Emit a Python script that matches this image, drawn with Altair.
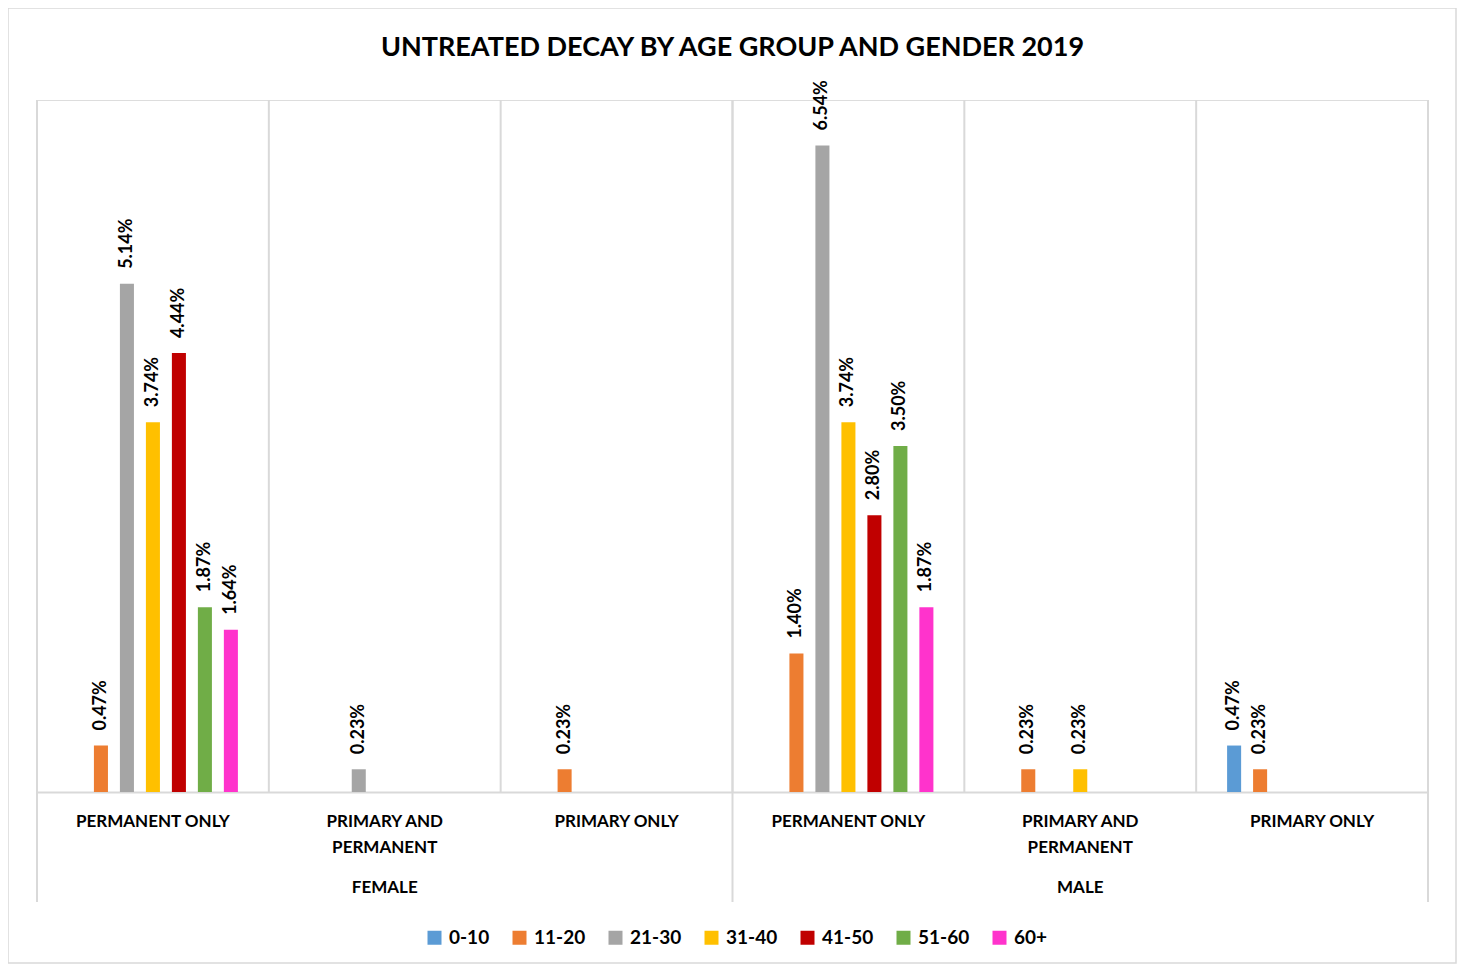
import altair as alt
import pandas as pd

# ---- data ----
genders = ["FEMALE", "MALE"]
types = ["PERMANENT ONLY", "PRIMARY AND\nPERMANENT", "PRIMARY ONLY"]
ages = ["0-10", "11-20", "21-30", "31-40", "41-50", "51-60", "60+"]
colors = ["#5B9BD5", "#ED7D31", "#A5A5A5", "#FFC000", "#C00000", "#70AD47", "#FF33CC"]

# values (%) per age group, in order of the six categories:
# F-Permanent only, F-Primary and permanent, F-Primary only,
# M-Permanent only, M-Primary and permanent, M-Primary only
v_0_10 = [None, None, None, None, None, 0.47]
v_11_20 = [0.47, None, 0.23, 1.40, 0.23, 0.23]
v_21_30 = [5.14, 0.23, None, 6.54, None, None]
v_31_40 = [3.74, None, None, 3.74, 0.23, None]
v_41_50 = [4.44, None, None, 2.80, None, None]
v_51_60 = [1.87, None, None, 3.50, None, None]
v_60p = [1.64, None, None, 1.87, None, None]
series = [v_0_10, v_11_20, v_21_30, v_31_40, v_41_50, v_51_60, v_60p]

title_text = "UNTREATED DECAY BY AGE GROUP AND GENDER 2019"

# ---- tables ----
keys = [f"{g}|{t}" for g in genders for t in types]
rows = []
for age, vals in zip(ages, series):
    for k, v in zip(keys, vals):
        if v is not None:
            rows.append({"key": k, "age": age, "value": v})
df = pd.DataFrame(rows)

cat_df = pd.DataFrame({"key": keys, "label": [t for g in genders for t in types]})
gender_df = pd.DataFrame({"key": [f"{g}|{types[1]}" for g in genders], "g": genders})
long_df = pd.DataFrame({"key": [f"{g}|{types[0]}" for g in genders]})
one = pd.DataFrame({"t": [title_text]})

W, H = 1391, 692
FONT = "Lato"
GRID = "#D9D9D9"

xscale = alt.Scale(domain=keys, paddingInner=0, paddingOuter=0)
X = alt.X("key:N", scale=xscale,
          axis=alt.Axis(labels=False, ticks=False, grid=False, title=None,
                        domainColor=GRID, domainWidth=2))
# empty slots at both ends give the gap between category groups
XO = alt.XOffset("age:N", scale=alt.Scale(domain=[" "] + ages + ["  "],
                                          paddingInner=0.46, paddingOuter=0.19))
Y = alt.Y("value:Q", scale=alt.Scale(domain=[0, 7], nice=False, zero=True), axis=None)

bars = alt.Chart(df).mark_bar().encode(
    x=X, xOffset=XO, y=Y,
    color=alt.Color("age:N", scale=alt.Scale(domain=ages, range=colors),
                    legend=alt.Legend(orient="none", legendX=388, legendY=828,
                                      direction="horizontal", title=None,
                                      symbolType="square", symbolSize=196,
                                      symbolStrokeWidth=0, labelFont=FONT,
                                      labelFontSize=19, labelFontWeight="bold",
                                      labelColor="#000000", labelOffset=5,
                                      columnPadding=20)),
)

labels = alt.Chart(df).transform_calculate(
    lbl="format(datum.value, '.2f') + '%'"
).mark_text(angle=270, align="left", baseline="middle", dx=15,
            font=FONT, fontSize=18, fontWeight="bold", color="#000000").encode(
    x=X, xOffset=XO, y=Y, text="lbl:N"
)

short_rules = alt.Chart(cat_df).mark_rule(color=GRID, strokeWidth=2).encode(
    x=alt.X("key:N", scale=xscale, bandPosition=0),
    y=alt.value(0), y2=alt.value(H),
)
long_rules = alt.Chart(long_df).mark_rule(color=GRID, strokeWidth=2).encode(
    x=alt.X("key:N", scale=xscale, bandPosition=0),
    y=alt.value(0), y2=alt.value(802),
)
right_rule = alt.Chart(one).mark_rule(color=GRID, strokeWidth=2).encode(
    x=alt.value(W), y=alt.value(0), y2=alt.value(802),
)

cat_text = alt.Chart(cat_df).mark_text(
    font=FONT, fontSize=17, fontWeight="bold", baseline="top", align="center",
    lineBreak="\n", lineHeight=26, color="#000000"
).encode(x=alt.X("key:N", scale=xscale), y=alt.value(714), text="label:N")

gender_text = alt.Chart(gender_df).mark_text(
    font=FONT, fontSize=17, fontWeight="bold", baseline="middle", align="center",
    color="#000000"
).encode(x=alt.X("key:N", scale=xscale), y=alt.value(788), text="g:N")

title = alt.Chart(one).mark_text(
    font=FONT, fontSize=27, fontWeight="bold", baseline="middle", align="center",
    color="#000000"
).encode(x=alt.value(W / 2), y=alt.value(-52), text="t:N")

frame = alt.Chart(one).mark_rect(fill=None, stroke=GRID, strokeWidth=1.5).encode(
    x=alt.value(-29), x2=alt.value(W + 28), y=alt.value(-92), y2=alt.value(863),
)

chart = alt.layer(
    frame, short_rules, long_rules, right_rule, bars, labels, cat_text, gender_text, title
).properties(
    width=W, height=H,
    autosize=alt.AutoSizeParams(type="none"),
    padding={"left": 29, "top": 92, "right": 29, "bottom": 172},
).configure_view(stroke=None).configure(background="white")

chart.save("out.html", embed_options={"renderer": "svg", "actions": False})
